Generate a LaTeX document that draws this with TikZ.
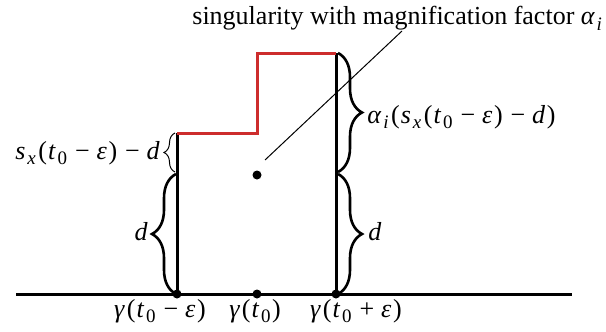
\documentclass[tikz,border=0pt]{standalone}
\usepackage{fontspec}
\setmainfont{Liberation Serif}
\usetikzlibrary{decorations.pathreplacing}
\definecolor{stepred}{RGB}{205,45,45}
\newcommand{\mv}[1]{\textit{#1}\hspace{0.07em}}
\newcommand{\msub}[1]{\raisebox{-0.22em}{\fontsize{9.5}{11}\selectfont #1}\hspace{0.05em}}
\newcommand{\mminus}{\hspace{0.26em}−\hspace{0.26em}}
\newcommand{\mplus}{\hspace{0.26em}+\hspace{0.26em}}
\newcommand{\mpar}[1]{#1\hspace{0.04em}}
\begin{document}
\begin{tikzpicture}[x=0.5pt,y=-0.5pt,
  font=\fontsize{13}{15}\selectfont,
  thickline/.style={line width=1.5pt},
  redline/.style={draw=stepred, line width=1.5pt},
  thinline/.style={line width=0.5pt},
  bigbrace/.style={decorate, decoration={brace, amplitude=12pt}, line width=1.3pt},
  smallbrace/.style={decorate, decoration={brace, amplitude=5.5pt}, line width=0.5pt},
  dotmark/.style={circle, fill, inner sep=0pt, minimum size=4.5pt},
  lbl/.style={inner sep=0pt}]
\useasboundingbox (0,0) rectangle (606,332);
% points
\coordinate (L0) at (16,294);
\coordinate (R0) at (572,294);
\coordinate (P) at (177,133);
\coordinate (Q) at (257,133);
\coordinate (R) at (257,53);
\coordinate (S) at (336,53);
\coordinate (Lstart) at (265,160);
\coordinate (Lend) at (402,31);
% brace ends
\coordinate (b1a) at (175,172);
\coordinate (b1b) at (175,133);
\coordinate (b2a) at (176,294);
\coordinate (b2b) at (176,174);
\coordinate (b3a) at (338,53);
\coordinate (b3b) at (338,172);
\coordinate (b4a) at (338,174);
\coordinate (b4b) at (338,294);
% lines
\draw[thickline] (L0) -- (R0);
\draw[thickline] (P) -- (177,294);
\draw[thickline] (S) -- (336,294);
\draw[redline] (P) -- (Q) -- (R) -- (S);
\draw[thinline] (Lstart) -- (Lend);
% dots
\node[dotmark] (A) at (177,294) {};
\node[dotmark] (M) at (257,294) {};
\node[dotmark] (B) at (336,294) {};
\node[dotmark] (D) at (257,175) {};
% braces
\draw[smallbrace] (b1a) -- (b1b);
\draw[bigbrace] (b2a) -- (b2b);
\draw[bigbrace] (b3a) -- (b3b);
\draw[bigbrace] (b4a) -- (b4b);
% labels
\node[lbl, anchor=base west] (title) at (192,25) {singularity with magnification factor \mv{α}\msub{\mv{i}}};
\node[lbl, anchor=base east] (lsmall) at (160,159) {\mv{s}\msub{\mv{x}}\mpar{(}\mv{t}\msub{0}\mminus\mv{ε}\mpar{)}\mminus\mv{d}};
\node[lbl, anchor=base east] (ld) at (148,240) {\mv{d}};
\node[lbl, anchor=base west] (rbig) at (367,123) {\mv{α}\msub{\mv{i}}\mpar{(}\mv{s}\msub{\mv{x}}\mpar{(}\mv{t}\msub{0}\mminus\mv{ε}\mpar{)}\mminus\mv{d}\mpar{)}};
\node[lbl, anchor=base west] (rd) at (368,240) {\mv{d}};
\node[lbl, anchor=base] (ga) at (160,317) {\mv{γ}\mpar{(}\mv{t}\msub{0}\mminus\mv{ε}\mpar{)}};
\node[lbl, anchor=base] (gm) at (255,317) {\mv{γ}\mpar{(}\mv{t}\msub{0}\mpar{)}};
\node[lbl, anchor=base] (gb) at (356,317) {\mv{γ}\mpar{(}\mv{t}\msub{0}\mplus\mv{ε}\mpar{)}};
\end{tikzpicture}
\end{document}
